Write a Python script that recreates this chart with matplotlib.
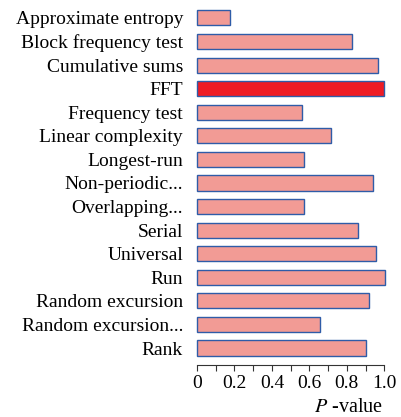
import numpy as np
import matplotlib
matplotlib.use('Agg')
import matplotlib.pyplot as plt

plt.rcParams['font.family'] = ['Liberation Serif', 'DejaVu Serif']
plt.rcParams['mathtext.fontset'] = 'stix'

tests = ['Approximate entropy', 'Block frequency test', 'Cumulative sums', 'FFT',
         'Frequency test', 'Linear complexity', 'Longest-run', 'Non-periodic...',
         'Overlapping...', 'Serial', 'Universal', 'Run', 'Random excursion',
         'Random excursion...', 'Rank']
p_values = [0.176, 0.828, 0.967, 1.0, 0.563, 0.714, 0.569, 0.937,
            0.569, 0.857, 0.956, 1.006, 0.919, 0.657, 0.903]
highlight = 'FFT'
xticks = [0, 0.2, 0.4, 0.6, 0.8, 1.0]
xtick_labels = ['0', '0.2', '0.4', '0.6', '0.8', '1.0']

fig = plt.figure(figsize=(4.02, 4.17), dpi=100)
ax = fig.add_axes([197 / 402, 1 - 365 / 417, 187.3 / 402, 365 / 417])

y = np.arange(len(tests))
colors = ['#ee1c25' if t == highlight else '#f29b95' for t in tests]
bars = ax.barh(y, p_values, height=0.64, color=colors, edgecolor='#2f5ca8',
               linewidth=1.0)
for b in bars:
    b.set_clip_on(False)

ax.set_xlim(0, 1.0)
ax.set_ylim(14.72, -0.76)
ax.set_yticks(y)
ax.set_yticklabels(tests, fontsize=14)
ax.tick_params(axis='y', length=0, pad=10)

ax.set_xticks(xticks)
ax.set_xticklabels(xtick_labels, fontsize=14)
ax.set_xticks(np.arange(0, 1.01, 0.1), minor=True)
ax.tick_params(axis='x', which='both', direction='out', length=4, width=0.8,
               color='#333333', pad=3)

for s in ['top', 'right', 'left']:
    ax.spines[s].set_visible(False)
ax.spines['bottom'].set_linewidth(0.8)
ax.spines['bottom'].set_color('#333333')

ax.set_xlabel(r'$\mathit{P}$ -value', fontsize=14.5)
ax.xaxis.set_label_coords(0.81, -0.09)

fig.savefig('out.png', dpi=100)
